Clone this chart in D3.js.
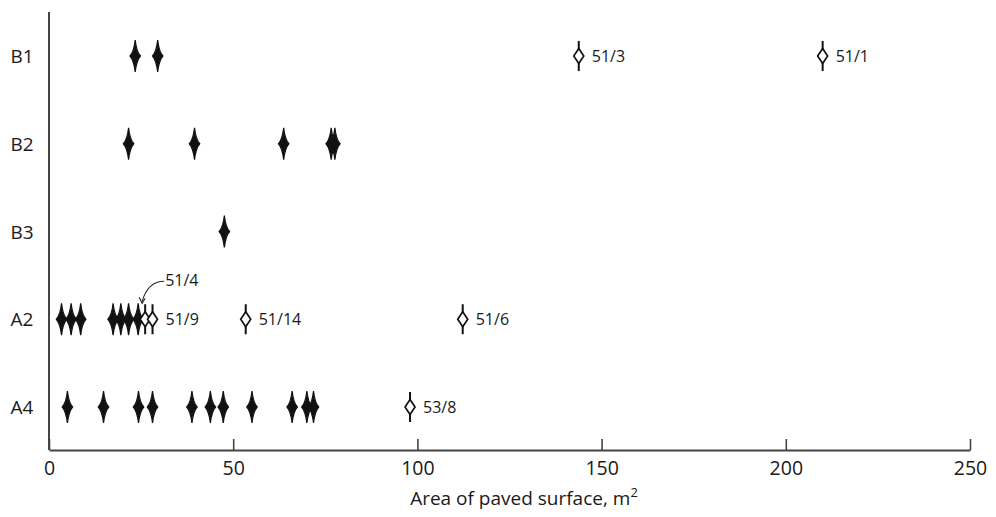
<!DOCTYPE html>
<html>
<head>
<meta charset="utf-8">
<script src="https://cdn.jsdelivr.net/npm/d3@7"></script>
<style>
  body { margin: 0; background: #fff; }
  svg text { font-family: "Open Sans", "Noto Sans", sans-serif; fill: #1a1a1a; }
</style>
</head>
<body>
<svg id="chart" width="996" height="517"></svg>
<script>
// rows (top to bottom)
const rows = ["B1", "B2", "B3", "A2", "A4"];

// filled markers: area of paved surface, m2
const filledB1 = [23.4, 29.5];
const filledB2 = [21.6, 39.5, 63.7, 76.6, 77.6];
const filledB3 = [47.6];
const filledA2 = [3.4, 6.0, 8.6, 17.4, 19.5, 21.6, 24.2];
const filledA4 = [5.0, 14.8, 24.3, 28.1, 38.8, 43.8, 47.3, 55.1, 66.0, 70.0, 71.8];

// open markers with their labels
const openRows   = ["B1", "B1", "A2", "A2", "A2", "A2", "A4"];
const openValues = [143.8, 210.0, 26.1, 28.1, 53.4, 112.3, 98.0];
const openLabels = ["51/3", "51/1", "51/4", "51/9", "51/14", "51/6", "53/8"];

const xTicks = [0, 50, 100, 150, 200, 250];

const filled = [];
[filledB1, filledB2, filledB3, filledA2, filledA4].forEach((arr, i) => {
  arr.forEach(v => filled.push({ row: rows[i], value: v }));
});
const open = openValues.map((v, i) => ({ row: openRows[i], value: v, label: openLabels[i] }));

const svg = d3.select("#chart");

const x = d3.scaleLinear().domain([0, 250]).range([49, 970]);
const y = d3.scalePoint().domain(rows).range([56, 407]);
const axisY = 450;

// x axis with inward ticks
const xAxis = svg.append("g")
  .attr("transform", "translate(0," + axisY + ")")
  .call(d3.axisBottom(x).tickValues(xTicks).tickSize(-11).tickSizeOuter(0).tickPadding(0));
xAxis.select(".domain").attr("stroke", "#444").attr("stroke-width", 2);
xAxis.selectAll(".tick line").attr("stroke", "#444").attr("stroke-width", 1.6);
xAxis.selectAll(".tick text")
  .attr("y", 25)
  .attr("dy", 0)
  .style("font-size", "19.5px");

// y axis: line only, labels to the left
svg.append("line")
  .attr("x1", x(0)).attr("x2", x(0))
  .attr("y1", 12).attr("y2", axisY)
  .attr("stroke", "#444").attr("stroke-width", 2);

svg.append("g").selectAll("text")
  .data(rows)
  .join("text")
  .attr("x", 22)
  .attr("y", d => y(d) + 7)
  .attr("text-anchor", "middle")
  .style("font-size", "19px")
  .text(d => d);

svg.append("text")
  .attr("x", 524)
  .attr("y", 505)
  .attr("text-anchor", "middle")
  .style("font-size", "19px")
  .html("Area of paved surface, m<tspan dy='-8' font-size='13px'>2</tspan>");

const starPath = "M0,-16 C0.8,-9 1.6,-4 5.2,0 C1.6,4 0.8,9 0,16 C-0.8,9 -1.6,4 -5.2,0 C-1.6,-4 -0.8,-9 0,-16Z";
const stemPath = "M0,-15 L0,15";
const diamondPath = "M0,-7.5 L5,0 L0,7.5 L-5,0Z";

// filled markers
svg.append("g").selectAll("path")
  .data(filled)
  .join("path")
  .attr("transform", d => "translate(" + x(d.value) + "," + y(d.row) + ")")
  .attr("d", starPath)
  .attr("fill", "#111")
  .attr("stroke", "#111")
  .attr("stroke-width", 1.2);

// open markers
const openG = svg.append("g").selectAll("g")
  .data(open)
  .join("g")
  .attr("transform", d => "translate(" + x(d.value) + "," + y(d.row) + ")");

openG.append("path")
  .attr("d", stemPath)
  .attr("stroke", "#111")
  .attr("stroke-width", 2);

openG.append("path")
  .attr("d", diamondPath)
  .attr("fill", "#fff")
  .attr("stroke", "#111")
  .attr("stroke-width", 1.7);

// labels (51/4 goes above with a leader)
openG.filter(d => d.label !== "51/4").append("text")
  .attr("x", 13)
  .attr("y", 6)
  .style("font-size", "16px")
  .text(d => d.label);

const lead = open.find(d => d.label === "51/4");
const lx = x(lead.value), ly = y(lead.row);
svg.append("path")
  .attr("d", "M" + (lx + 19) + "," + (ly - 38) + " Q" + (lx + 3) + "," + (ly - 38) + " " + (lx - 3) + "," + (ly - 18))
  .attr("fill", "none")
  .attr("stroke", "#222")
  .attr("stroke-width", 1.1);
svg.append("path")
  .attr("d", "M" + (lx - 6) + "," + (ly - 22) + " L" + (lx - 3) + "," + (ly - 16) + " L" + (lx) + "," + (ly - 21))
  .attr("fill", "none")
  .attr("stroke", "#222")
  .attr("stroke-width", 1.1);
svg.append("text")
  .attr("x", lx + 20)
  .attr("y", ly - 33)
  .style("font-size", "16px")
  .text(lead.label);
</script>
</body>
</html>
